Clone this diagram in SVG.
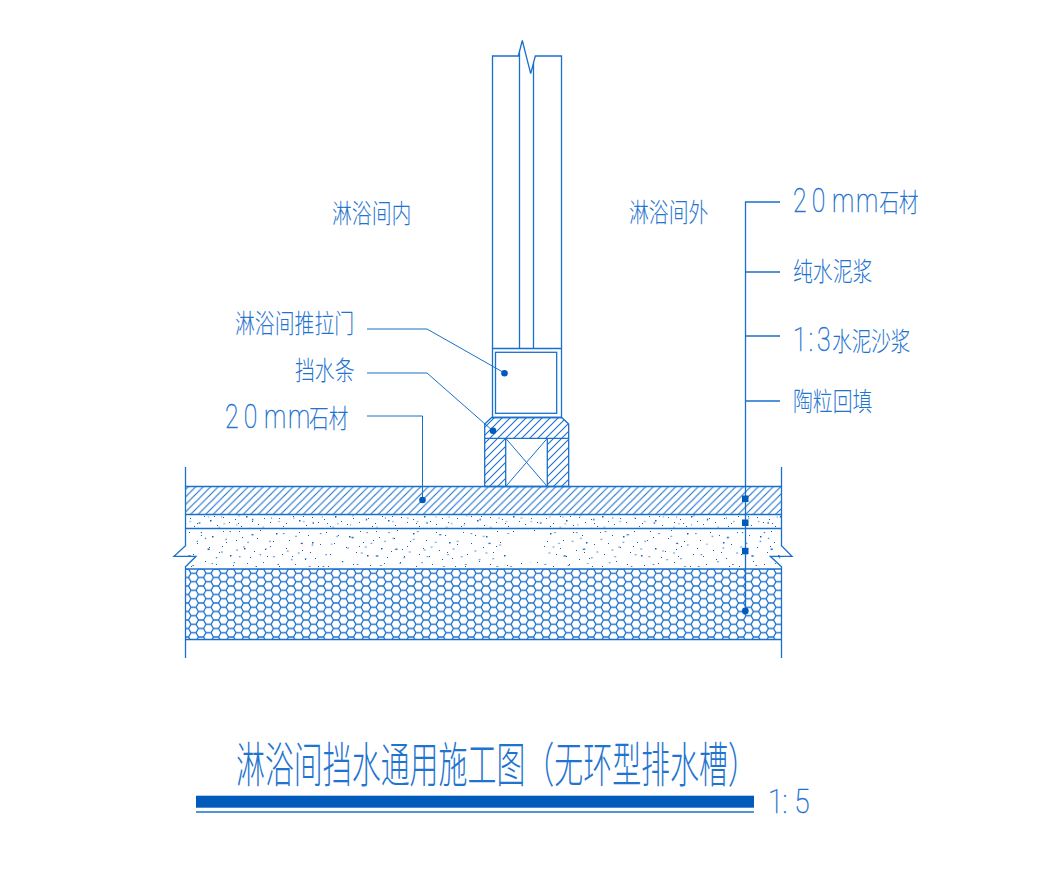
<svg xmlns="http://www.w3.org/2000/svg" width="1045" height="875" viewBox="0 0 1045 875">
<style>
.l{fill:none;stroke:#1a6fcb;stroke-width:1.3}
.t{fill:none;stroke:#1a6fcb;stroke-width:1}
.d{fill:#005bbb}
text{fill:#1f74d0;font-family:"Noto Sans CJK SC","Noto Sans",sans-serif;font-weight:300}
.c{font-size:26.500px}
.n{font-family:Roboto,"Liberation Sans",sans-serif;font-size:33px;font-weight:100;stroke:#1f74d0;stroke-width:.5}
</style>
<defs>
<pattern id="hatch" width="7.500" height="7.500" patternUnits="userSpaceOnUse" x="0" y="0"><path d="M-1 8.500L8.500 -1M-1 1L1 -1M6.500 8.500L8.500 6.500" fill="none" stroke="#1a6fcb" stroke-width="1.100"/></pattern>
<pattern id="hatch2" width="8" height="8" patternUnits="userSpaceOnUse"><path d="M-1 9L9 -1M-1 1L1 -1M7 9L9 7" fill="none" stroke="#1a6fcb" stroke-width="1.100"/></pattern>
<pattern id="hex" width="15" height="8.500" patternUnits="userSpaceOnUse" x="186" y="569"><path d="M0 0H2.500L5 4.250H10L12.500 0H15M5 4.250L2.500 8.500M10 4.250L12.500 8.500M0 8.500H2.500M12.500 8.500H15" fill="none" stroke="#1a6fcb" stroke-width="1.300"/></pattern>
<pattern id="st1" width="137" height="41" patternUnits="userSpaceOnUse" x="186" y="528"><path fill="#0a5fc0" d="M3 4h1v1h-1zM11 15h1v1h-1zM19 33h1v1h-1zM26 8h1.500v1.500h-1.500zM33 24h1v1h-1zM40 14h1v1h-1zM47 37h1v1h-1zM53 3h1v1h-1zM58 20h1.500v1.500h-1.500zM64 29h1v1h-1zM71 10h1v1h-1zM77 34h1v1h-1zM84 18h1v1h-1zM90 5h1.500v1.500h-1.500zM96 26h1v1h-1zM103 12h1v1h-1zM109 36h1v1h-1zM116 22h1v1h-1zM122 7h1v1h-1zM129 30h1v1h-1zM134 16h1v1h-1zM7 26h1v1h-1zM15 7h1v1h-1zM23 19h1v1h-1zM30 36h1v1h-1zM37 3h1v1h-1zM44 27h1.500v1.500h-1.500zM50 12h1v1h-1zM61 35h1v1h-1zM68 23h1v1h-1zM74 2h1v1h-1zM81 28h1v1h-1zM87 13h1v1h-1zM93 38h1v1h-1zM100 20h1v1h-1zM113 4h1v1h-1zM119 31h1v1h-1zM126 14h1.500v1.500h-1.500zM132 38h1v1h-1zM5 38h1v1h-1zM36 18h1v1h-1zM56 9h1v1h-1zM79 21h1v1h-1zM106 28h1v1h-1zM124 24h1v1h-1z"/></pattern>
<pattern id="st3" href="#st1" patternTransform="translate(61 17) scale(1.370 .970)"/>
<pattern id="st4" href="#st1" patternTransform="translate(23 9) scale(.830 1.130)"/>
<pattern id="st2" width="89" height="13" patternUnits="userSpaceOnUse" x="186" y="515"><path fill="#0a5fc0" d="M4 3h1v1h-1zM11 8h1v1h-1zM18 1h1v1h-1zM24 5h1.500v1.500h-1.500zM31 10h1v1h-1zM37 2h1v1h-1zM43 7h1v1h-1zM49 4h1v1h-1zM55 11h1v1h-1zM60 1h1.500v1.500h-1.500zM66 6h1v1h-1zM72 9h1v1h-1zM78 3h1v1h-1zM84 7h1v1h-1zM8 11h1v1h-1zM28 1h1v1h-1zM52 8h1v1h-1z"/></pattern>
<clipPath id="sc"><path clip-rule="evenodd" d="M186 529H781V569H186ZM507 534H544V562H507Z"/></clipPath>
</defs>

<g id="floor">
<rect x="185.500" y="486.500" width="596" height="28" fill="url(#hatch)"/>
<rect x="185.500" y="514.500" width="596" height="14" fill="url(#st2)"/>
<rect x="185.500" y="514.500" width="596" height="14" fill="url(#st4)"/>
<g clip-path="url(#sc)">
<rect x="185.500" y="529" width="596" height="40" fill="url(#st1)"/>
<rect x="185.500" y="529" width="596" height="40" fill="url(#st3)"/>
</g>
<rect x="185.500" y="569" width="596" height="70.500" fill="url(#hex)"/>
<path class="l" d="M185.500 486.500H781.500M185.500 514.500H781.500M185.500 528.500H781.500M185.500 569H781.500M185.500 639.500H781.500"/>
<path class="l" d="M185.500 467V545.700L174 556.300H196L185.500 566.700V658"/>
<path class="l" d="M781.500 467V545.700L792 556.300H770.300L781.500 566.700V658"/>
</g>

<g id="door">
<path class="l" d="M492.500 348.500V56H518.300L522.300 40.500L530.700 73.700L535.300 56H561.500V348.500M519.500 50V348.500M533.500 62V348.500"/>
<path class="l" d="M492.500 348.500H561.500V417.500H492.500Z"/>
<rect class="l" x="495.500" y="352.300" width="61.200" height="61"/>
</g>

<g id="threshold">
<path fill="url(#hatch2)" d="M491.700 417.500H561.700L568.700 424V486H547.300V438.300H505.700V486H484.700V424Z"/>
<path class="l" d="M491.700 417.500H561.700L568.700 424V486.500H484.700V424ZM484.700 438.300H568.700M505.700 438.300V486.500M547.300 438.300V486.500"/>
<path class="t" d="M505.700 438.300L547.300 486.500M547.300 438.300L505.700 486.500"/>
</g>

<g id="connectors">
<path class="t" d="M367 329H427L504.500 373"/>
<path class="t" d="M367 373H427L493 431"/>
<path class="t" d="M367 416H422.500V500"/>
<path class="l" d="M780 202H745.500V611M745.500 272H780M745.500 336H780M745.500 401H780"/>
<circle class="d" cx="504.500" cy="373.300" r="3.300"/>
<circle class="d" cx="493" cy="430.700" r="3.300"/>
<circle class="d" cx="422.500" cy="500" r="3.300"/>
<rect class="d" x="742" y="495.500" width="6.500" height="6.500"/>
<rect class="d" x="742" y="519.500" width="6.500" height="6.500"/>
<rect class="d" x="742" y="547.800" width="6.500" height="6.500"/>
<circle class="d" cx="745.300" cy="611" r="3.400"/>
</g>

<g id="labels">
<text class="c" transform="translate(332 223) scale(.75 1)">淋浴间内</text>
<text class="c" transform="translate(629 222) scale(.75 1)">淋浴间外</text>
<text class="c" transform="translate(235 333) scale(.75 1)">淋浴间推拉门</text>
<text class="c" transform="translate(295 380) scale(.75 1)">挡水条</text>
<text transform="translate(225 428) scale(.75 1)"><tspan class="n" x="0 25 52 84">20mm</tspan><tspan class="c" x="112 138">石材</tspan></text>
<text transform="translate(793 212) scale(.75 1)"><tspan class="n" x="0 25 52 84">20mm</tspan><tspan class="c" x="115 141">石材</tspan></text>
<text class="c" transform="translate(793 281) scale(.75 1)">纯水泥浆</text>
<text transform="translate(793 351) scale(.75 1)"><tspan class="n" x="0 21 32">1:3</tspan><tspan class="c" x="52 78 104 130">水泥沙浆</tspan></text>
<text class="c" transform="translate(793 411) scale(.75 1)">陶粒回填</text>
<text font-size="48" transform="translate(236 782) scale(.603 1)">淋浴间挡水通用施工图（无环型排水槽）</text>
<text class="n" transform="translate(768 813) scale(.85 1)" x="0 17 31">1:5</text>
</g>

<g id="title-bar">
<rect class="d" x="196" y="795.700" width="558" height="12"/>
<path class="l" d="M196 812H754"/>
</g>
</svg>
